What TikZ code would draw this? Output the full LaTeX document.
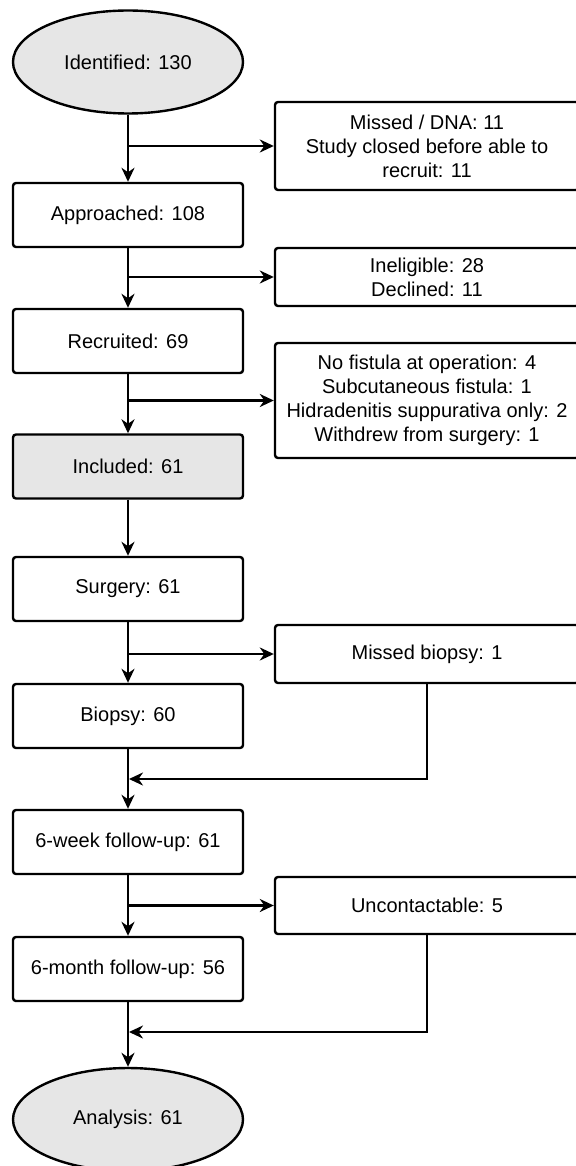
\documentclass[tikz,border=0pt]{standalone}
\usepackage{fontspec}
\setmainfont{Liberation Sans}
\usepackage{tikz}
\usetikzlibrary{shapes.geometric, arrows.meta}
\definecolor{termgray}{HTML}{E6E6E6}

\begin{document}
\begin{tikzpicture}[x=1pt, y=-1pt,
                font=\fontsize{20}{24}\selectfont,
                line width=2.4pt,
                stage/.style={draw, rectangle, rounded corners=3pt,
                    minimum width=230pt, minimum height=64pt, inner sep=0pt, align=center},
                excl/.style={draw, rectangle, rounded corners=3pt,
                    minimum width=304pt, inner sep=0pt, align=center},
                term/.style={draw, ellipse, fill=termgray,
                    minimum width=230pt, minimum height=103pt, inner sep=0pt},
                arr/.style={-{Stealth[length=14pt, width=13pt, inset=4.5pt]}}
            ]
                \useasboundingbox (0,0) rectangle (575,1166);

                % main column
                \node[term]  (ident) at (128,62)   {Identified: 130};
                \node[stage] (appr)  at (128,215)  {Approached: 108};
                \node[stage] (recr)  at (128,341)  {Recruited: 69};
                \node[stage, fill=termgray] (incl) at (128,466.5) {Included: 61};
                \node[stage] (surg)  at (128,589)  {Surgery: 61};
                \node[stage] (biop)  at (128,716)  {Biopsy: 60};
                \node[stage] (wk6)   at (128,842)  {6-week follow-up: 61};
                \node[stage] (mo6)   at (128,969)  {6-month follow-up: 56};
                \node[term]  (anal)  at (128,1119.5) {Analysis: 61};

                % side boxes
                \node[excl, minimum height=88pt]  (miss) at (427,146)
                    {Missed / DNA: 11\\Study closed before able to\\recruit: 11};
                \node[excl, minimum height=58pt]  (inel) at (427,277)
                    {Ineligible: 28\\Declined: 11};
                \node[excl, minimum height=115pt] (nofist) at (427,400.5)
                    {No fistula at operation: 4\\Subcutaneous fistula: 1\\Hidradenitis suppurativa only: 2\\Withdrew from surgery: 1};
                \node[excl, minimum height=58pt]  (mbio) at (427,654) {Missed biopsy: 1};
                \node[excl, minimum height=57pt]  (unco) at (427,905.5) {Uncontactable: 5};

                \coordinate (join1) at (129,779);
                \coordinate (join2) at (129,1032);

                % connectors
                \draw[arr] (ident) -- (appr);
                \draw[arr] (appr) -- (recr);
                \draw[arr] (recr) -- (incl);
                \draw[arr] (incl) -- (surg);
                \draw[arr] (surg) -- (biop);
                \draw[arr] (biop) -- (wk6);
                \draw[arr] (wk6) -- (mo6);
                \draw[arr] (mo6) -- (anal);

                \draw[arr] (ident.south |- miss.west) -- (miss.west);
                \draw[arr] (appr.south |- inel.west) -- (inel.west);
                \draw[arr] (recr.south |- nofist.west) -- (nofist.west);
                \draw[arr] (surg.south |- mbio.west) -- (mbio.west);
                \draw[arr] (wk6.south |- unco.west) -- (unco.west);

                \draw[arr] (mbio.south) |- (join1);
                \draw[arr] (unco.south) |- (join2);
            \end{tikzpicture}
\end{document}
